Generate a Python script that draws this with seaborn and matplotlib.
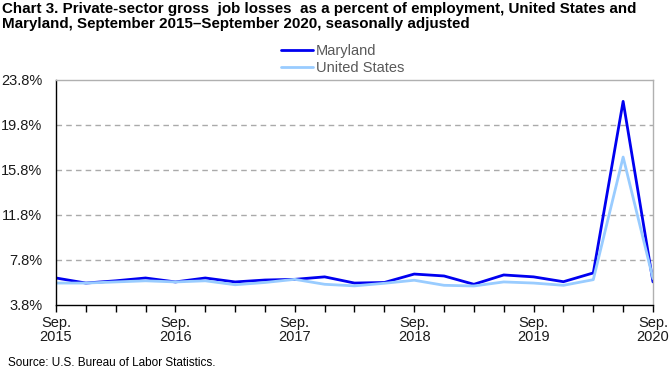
import matplotlib
matplotlib.use("Agg")
import matplotlib.pyplot as plt
import seaborn as sns
import pandas as pd
import numpy as np
from matplotlib.lines import Line2D

quarters = ["Sep 2015", "Dec 2015", "Mar 2016", "Jun 2016", "Sep 2016", "Dec 2016",
            "Mar 2017", "Jun 2017", "Sep 2017", "Dec 2017", "Mar 2018", "Jun 2018",
            "Sep 2018", "Dec 2018", "Mar 2019", "Jun 2019", "Sep 2019", "Dec 2019",
            "Mar 2020", "Jun 2020", "Sep 2020"]
maryland = [6.2, 5.75, 5.95, 6.2, 5.85, 6.2, 5.85, 6.02, 6.08, 6.3, 5.75, 5.8,
            6.55, 6.38, 5.64, 6.47, 6.3, 5.87, 6.65, 21.9, 5.85]
united_states = [5.75, 5.75, 5.85, 5.95, 5.85, 5.95, 5.6, 5.8, 6.08, 5.64, 5.5, 5.73,
                 6.0, 5.55, 5.49, 5.85, 5.75, 5.55, 6.05, 16.95, 6.15]
xtick_labels = ["Sep.\n2015", "Sep.\n2016", "Sep.\n2017", "Sep.\n2018", "Sep.\n2019", "Sep.\n2020"]
ytick_values = [3.8, 7.8, 11.8, 15.8, 19.8, 23.8]

sns.set_theme(style="white")
plt.rcParams['font.family'] = ['Liberation Sans', 'DejaVu Sans']

df = pd.DataFrame({
    "idx": list(range(len(quarters))) * 2,
    "value": maryland + united_states,
    "series": ["Maryland"] * len(quarters) + ["United States"] * len(quarters),
})

fig = plt.figure(figsize=(6.7, 3.7), dpi=100)
ax = fig.add_axes([0.0836, 0.1757, 0.891, 0.6081])

sns.lineplot(data=df, x="idx", y="value", hue="series",
             palette={"Maryland": "#0000F0", "United States": "#99CCFF"},
             linewidth=2.0, ax=ax, legend=False)

ax.set_xlim(0, len(quarters) - 1)
ax.set_ylim(3.8, 23.8)
ax.set_yticks(ytick_values)
ax.set_yticklabels([f"{v:.1f}%" for v in ytick_values], fontsize=10.5, color="#1a1a1a")
ax.set_xticks(range(len(quarters)))
labels = []
j = 0
for i in range(len(quarters)):
    if i % 4 == 0:
        labels.append(xtick_labels[j]); j += 1
    else:
        labels.append("")
ax.set_xticklabels(labels, fontsize=10.5, color="#1a1a1a", linespacing=1.0)
ax.tick_params(axis="x", bottom=True, length=5, width=1, color="black", pad=3, direction="out")
ax.tick_params(axis="y", left=False, pad=4)
ax.set_xlabel("")
ax.set_ylabel("")

for v in ytick_values[1:-1]:
    ax.axhline(v, color="#aaaaaa", linestyle=(0, (4, 3)), linewidth=1.0, zorder=0)

for s in ["left", "bottom"]:
    ax.spines[s].set_color("black")
    ax.spines[s].set_linewidth(1.0)
for s in ["top", "right"]:
    ax.spines[s].set_color("#b0b0b0")
    ax.spines[s].set_linewidth(1.0)

handles = [Line2D([], [], color="#0000F0", linewidth=2.0),
           Line2D([], [], color="#99CCFF", linewidth=2.0)]
leg = fig.legend(handles, ["Maryland", "United States"], loc="upper left",
                 bbox_to_anchor=(0.42, 0.88), frameon=False, fontsize=10.5,
                 handlelength=2.2, handletextpad=0.15, labelspacing=0.2,
                 borderpad=0, borderaxespad=0)
for t in leg.get_texts():
    t.set_color("#595959")

fig.text(0.003, 0.995, "Chart 3. Private-sector gross  job losses  as a percent of employment, United States and\nMaryland, September 2015\u2013September 2020, seasonally adjusted",
         ha="left", va="top", fontsize=10.9, fontweight="bold",
         linespacing=1.1, color="black")
fig.text(0.012, 0.004, "Source: U.S. Bureau of Labor Statistics.", ha="left", va="bottom",
         fontsize=8.5, color="black")

fig.savefig("out.png", dpi=100)
